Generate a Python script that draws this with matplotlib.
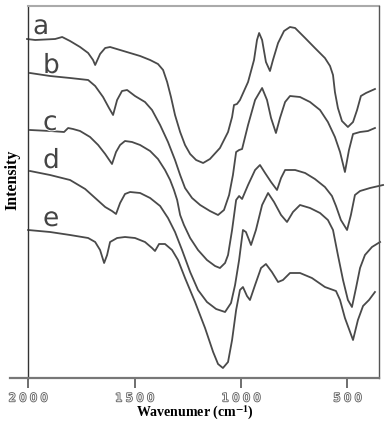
import matplotlib
matplotlib.use("Agg")
import matplotlib.pyplot as plt
import matplotlib.patheffects as pe
import numpy as np

# FTIR spectra a-e, wavenumber (cm-1) and intensity (arbitrary units, offset per curve)
wn_a = [2005, 1967, 1873, 1840, 1803, 1756, 1718, 1695, 1685, 1662, 1638, 1615, 1568, 1521,
        1474, 1427, 1390, 1366, 1347, 1329, 1310, 1286, 1263, 1239, 1211, 1178, 1146, 1099,
        1061, 1042, 1033, 1019, 1005, 967, 939, 925, 915, 901, 883, 864, 850, 826, 798, 770,
        746, 699, 653, 606, 582, 568, 559, 545, 526, 498, 474, 455, 437, 413, 371]
int_a = [339, 338, 339, 341, 337, 331, 325, 318, 313, 324, 330, 331, 328, 325,
         322, 318, 314, 308, 296, 281, 263, 246, 233, 224, 218, 215, 219, 230,
         246, 261, 273, 274, 278, 296, 318, 338, 345, 338, 316, 307, 318, 335, 347, 351,
         350, 340, 330, 320, 312, 303, 286, 270, 257, 251, 256, 268, 282, 285, 289]

wn_b = [1991, 1897, 1803, 1718, 1685, 1648, 1620, 1601, 1582, 1559, 1535, 1498, 1451, 1418,
        1380, 1343, 1310, 1286, 1263, 1230, 1192, 1146, 1108, 1080, 1056, 1038, 1023, 1009,
        995, 967, 934, 901, 878, 859, 836, 817, 793, 770, 723, 676, 629, 592, 559, 535,
        512, 493, 474, 441, 404, 371]
int_b = [305, 302, 300, 298, 292, 281, 270, 263, 278, 287, 288, 282, 276, 268,
         253, 236, 218, 203, 190, 180, 173, 167, 163, 168, 183, 203, 226, 228,
         229, 253, 278, 290, 278, 260, 245, 260, 276, 282, 281, 276, 268, 256, 241, 226,
         206, 228, 244, 246, 247, 250]

wn_c = [1991, 1897, 1831, 1812, 1789, 1756, 1709, 1671, 1638, 1606, 1587, 1568, 1545, 1512,
        1474, 1427, 1390, 1357, 1333, 1315, 1300, 1286, 1268, 1239, 1202, 1160, 1122, 1099,
        1075, 1061, 1042, 1023, 1009, 995, 967, 934, 911, 887, 859, 831, 812, 793, 746,
        699, 653, 606, 573, 554, 531, 502, 484, 465, 441, 394, 333]
int_c = [248, 247, 246, 250, 249, 247, 241, 233, 224, 214, 226, 233, 237, 236,
         233, 227, 219, 208, 198, 188, 178, 163, 153, 140, 128, 118, 112, 110,
         115, 123, 148, 178, 182, 179, 193, 208, 213, 205, 196, 188, 200, 208, 208,
         205, 199, 191, 182, 172, 158, 148, 163, 183, 187, 190, 193]

wn_d = [1991, 1897, 1803, 1732, 1685, 1638, 1606, 1587, 1568, 1545, 1521, 1474, 1427, 1380,
        1343, 1310, 1277, 1239, 1202, 1160, 1117, 1075, 1047, 1028, 1009, 991, 977, 953,
        930, 901, 873, 845, 812, 784, 756, 723, 676, 629, 592, 568, 545, 521, 498, 479,
        460, 441, 418, 385, 347]
int_d = [207, 203, 198, 189, 180, 171, 167, 164, 175, 184, 186, 185, 180, 172,
         160, 146, 128, 106, 88, 76, 69, 66, 75, 93, 118, 148, 146, 133,
         148, 173, 185, 176, 163, 156, 166, 173, 170, 165, 158, 148, 123, 98, 78, 71,
         90, 110, 123, 131, 136]

wn_e = [2000, 1897, 1803, 1718, 1685, 1662, 1643, 1629, 1615, 1582, 1545, 1498, 1451, 1418,
        1404, 1385, 1357, 1324, 1296, 1263, 1216, 1169, 1131, 1108, 1085, 1061, 1042, 1023,
        1005, 991, 972, 958, 934, 906, 883, 855, 826, 803, 770, 723, 667, 606, 554, 535,
        512, 474, 451, 427, 399, 371]
int_e = [148, 146, 143, 140, 136, 128, 115, 123, 136, 140, 141, 140, 136, 130,
         127, 134, 134, 128, 118, 100, 76, 50, 26, 14, 10, 16, 38, 68,
         88, 91, 82, 78, 93, 110, 114, 106, 96, 98, 105, 105, 100, 91, 87, 78,
         60, 38, 58, 72, 78, 86]

curve_names = ["a", "b", "c", "d", "e"]
tick_vals = [2000, 1500, 1000, 500]

plt.rcParams["mathtext.fontset"] = "stix"

fig = plt.figure(figsize=(3.87, 4.21), dpi=100)
ax = fig.add_axes([10 / 387, 43 / 421, 369 / 387, 372 / 421])
ax.set_xlim(2085, 352)
ax.set_ylim(0, 372)

line_col = "#4a4a4a"
for wn, inten in [(wn_a, int_a), (wn_b, int_b), (wn_c, int_c), (wn_d, int_d), (wn_e, int_e)]:
    ax.plot(wn, inten, color=line_col, lw=1.3, clip_on=False, solid_joinstyle="round")

# curve labels
label_pos = {"a": (1977, 344), "b": (1930, 305), "c": (1930, 248), "d": (1930, 210), "e": (1930, 152)}
for name in curve_names:
    ax.text(*label_pos[name], name, fontsize=19, family="DejaVu Sans", fontweight="normal",
            color="#444444", ha="left", va="baseline",
            path_effects=[pe.withStroke(linewidth=1.4, foreground="white")])

# frame: left line at 2000, grey top line, right spine, bottom axis
for s in ["left", "top"]:
    ax.spines[s].set_visible(False)
ax.spines["right"].set_color("#555555")
ax.spines["right"].set_linewidth(1.0)
ax.spines["bottom"].set_color("#777777")
ax.spines["bottom"].set_linewidth(1.6)
ax.plot([2000, 2000], [0, 372], color="#333333", lw=1.0, clip_on=False)
ax.plot([2000, 352], [372, 372], color="#aaaaaa", lw=1.5, clip_on=False)

ax.set_yticks([])
ax.set_xticks(tick_vals)
ax.set_xticklabels([" ".join(str(v)) for v in tick_vals])
ax.tick_params(axis="x", direction="out", length=7, width=1.2, color="#555555", pad=4)
for lab in ax.get_xticklabels():
    lab.set_fontsize(8)
    lab.set_color("white")
    lab.set_path_effects([pe.withStroke(linewidth=1.3, foreground="#666666")])

fig.text(195 / 387, 1 - 413 / 421, "Wavenumer (cm$^{\\mathbf{-1}}$)", family="Liberation Serif",
         fontweight="bold", fontsize=10, ha="center", va="center")
fig.text(12 / 387, 1 - 180 / 421, "Intensity", family="Liberation Serif", fontweight="bold",
         fontsize=11.5, rotation=90, ha="center", va="center")

fig.savefig("out.png", dpi=100)
